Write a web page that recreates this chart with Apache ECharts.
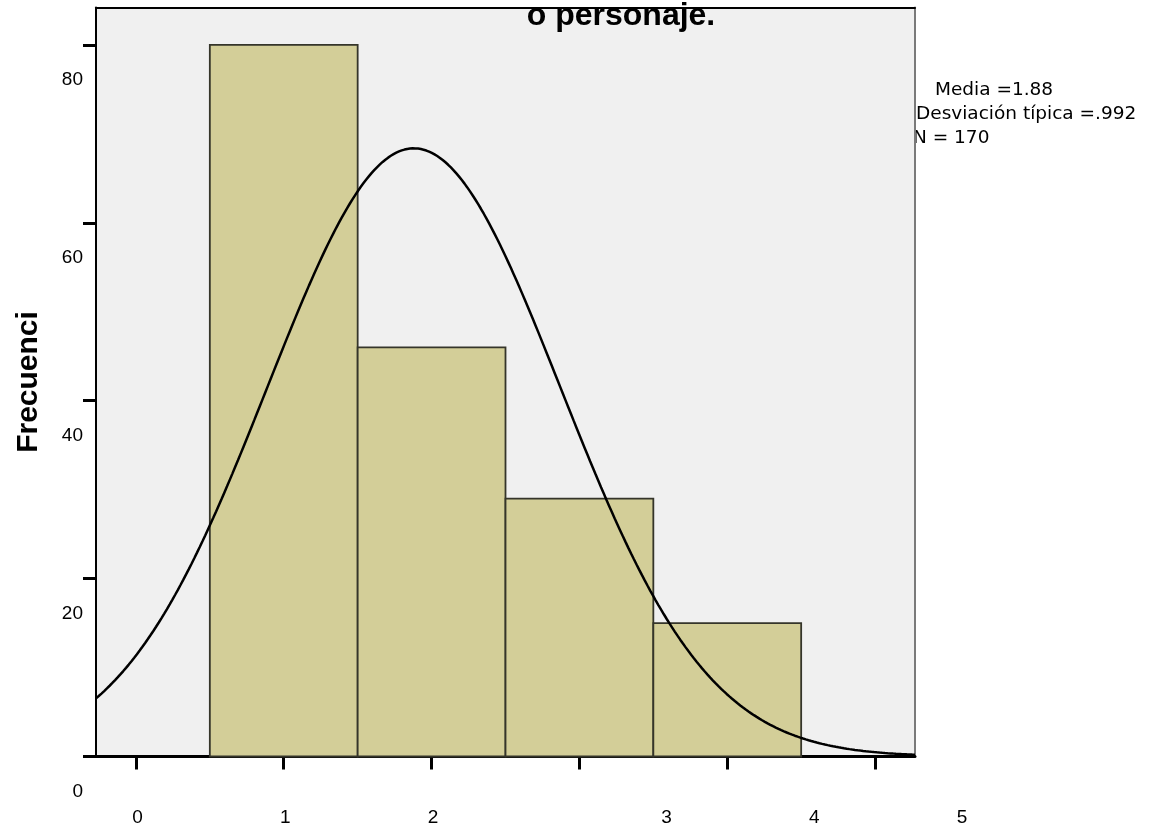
<!DOCTYPE html>
<html>
<head>
<meta charset="utf-8">
<script src="https://cdn.jsdelivr.net/npm/echarts@6/dist/echarts.min.js"></script>
<style>
  html, body { margin: 0; padding: 0; background: #ffffff; }
  #chart { width: 1151px; height: 830px; }
</style>
</head>
<body>
<div id="chart"></div>
<script>
// Histogram bins (centre of each unit-wide bar) and their counts
const binCenters = [1, 2, 3, 4];
const frequencies = [80, 46, 29, 15];

// Axis tick values
const xTickValues = [0, 1, 2, 3, 4, 5];
const yTickValues = [0, 20, 40, 60, 80];

// Summary statistics shown beside the plot; the fitted normal curve uses them
const mean = 1.88;
const stdDev = 0.992;
const count = 170;
const statsLines = ['Media =1.88', 'Desviación típica =.992', 'N = 170'];

const titleText = 'o personaje.';
const yAxisName = 'Frecuenci';

// Axis extents
const xMin = -0.27, xMax = 5.27;
const yMin = 0, yMax = 84.2;

// Fitted normal curve, scaled to counts per unit-wide bin
const binWidth = 1;
function normalCount(x) {
  const z = (x - mean) / stdDev;
  return count * binWidth * Math.exp(-0.5 * z * z) / (stdDev * Math.sqrt(2 * Math.PI));
}
const curve = [];
for (let i = 0; i <= 300; i++) {
  const x = xMin + (xMax - xMin) * i / 300;
  curve.push([x, normalCount(x)]);
}

const chart = echarts.init(document.getElementById('chart'), null, { renderer: 'canvas' });

const labelFont = '"Liberation Sans", Arial, sans-serif';

chart.setOption({
  animation: false,
  backgroundColor: '#ffffff',
  grid: {
    left: 96, right: 236, top: 7.5, bottom: 73.5,
    show: true, backgroundColor: '#f0f0f0', borderWidth: 0
  },
  xAxis: [{
    type: 'value', min: xMin, max: xMax, position: 'bottom',
    axisLine: { show: true, onZero: false, lineStyle: { color: '#000', width: 3 } },
    axisTick: { show: true, customValues: xTickValues, length: 13, inside: false,
                lineStyle: { color: '#000', width: 3 } },
    axisLabel: {
      customValues: xTickValues, margin: 52, fontSize: 19, color: '#000',
      fontFamily: labelFont,
      formatter: v => (v >= 3 ? '{s|' + v + '}' : '{n|' + v + '}'),
      rich: {
        n: { fontSize: 19, fontFamily: labelFont, color: '#000', padding: [0, 0, 0, 3] },
        s: { fontSize: 19, fontFamily: labelFont, color: '#000', padding: [0, 0, 0, 174] }
      }
    },
    splitLine: { show: false }
  }, {
    type: 'value', min: xMin, max: xMax, position: 'top',
    axisLine: { show: true, onZero: false, lineStyle: { color: '#000', width: 2 } },
    axisTick: { show: false }, axisLabel: { show: false }, splitLine: { show: false }
  }],
  yAxis: [{
    type: 'value', min: yMin, max: yMax, position: 'left',
    name: yAxisName, nameLocation: 'middle', nameRotate: 90, nameGap: 52,
    nameTextStyle: { fontSize: 30, fontWeight: 'bold', color: '#000', fontFamily: labelFont },
    axisLine: { show: true, onZero: false, lineStyle: { color: '#000', width: 2 } },
    axisTick: { show: true, customValues: yTickValues, length: 13,
                lineStyle: { color: '#000', width: 3 } },
    axisLabel: {
      customValues: yTickValues, margin: 13, fontSize: 19, color: '#000',
      fontFamily: labelFont,
      formatter: v => '{v|' + v + '}',
      rich: {
        v: { fontSize: 19, fontFamily: labelFont, color: '#000', padding: [70, 0, 0, 0] }
      }
    },
    splitLine: { show: false }
  }, {
    type: 'value', min: yMin, max: yMax, position: 'right',
    axisLine: { show: true, onZero: false, lineStyle: { color: '#7a7a7a', width: 2 } },
    axisTick: { show: false }, axisLabel: { show: false }, splitLine: { show: false }
  }],
  series: [{
    type: 'custom',
    xAxisIndex: 0, yAxisIndex: 0,
    data: binCenters.map((c, i) => [c, frequencies[i]]),
    renderItem: (params, api) => {
      const c = api.value(0), f = api.value(1);
      const topLeft = api.coord([c - binWidth / 2, f]);
      const bottomRight = api.coord([c + binWidth / 2, 0]);
      return {
        type: 'rect',
        shape: { x: topLeft[0], y: topLeft[1],
                 width: bottomRight[0] - topLeft[0], height: bottomRight[1] - topLeft[1] },
        style: { fill: '#d3ce98', stroke: '#35352a', lineWidth: 1.8 }
      };
    },
    z: 2
  }, {
    type: 'line',
    xAxisIndex: 0, yAxisIndex: 0,
    data: curve, showSymbol: false, smooth: false,
    lineStyle: { color: '#000', width: 2.5 },
    z: 3
  }],
  graphic: [{
    type: 'text', x: 621, y: 16, z: 100,
    style: { text: titleText, align: 'center', verticalAlign: 'middle',
             font: 'bold 32px "Liberation Sans", Arial, sans-serif', fill: '#000' }
  }, {
    type: 'text', x: 935, y: 90,
    style: { text: statsLines[0], verticalAlign: 'middle',
             font: '18.5px "DejaVu Sans", sans-serif', fill: '#000' }
  }, {
    type: 'text', x: 916, y: 114,
    style: { text: statsLines[1], verticalAlign: 'middle',
             font: '18.5px "DejaVu Sans", sans-serif', fill: '#000' }
  }, {
    type: 'text', x: 913, y: 138,
    style: { text: statsLines[2], verticalAlign: 'middle',
             font: '18.5px "DejaVu Sans", sans-serif', fill: '#000' }
  }]
});
</script>
</body>
</html>
